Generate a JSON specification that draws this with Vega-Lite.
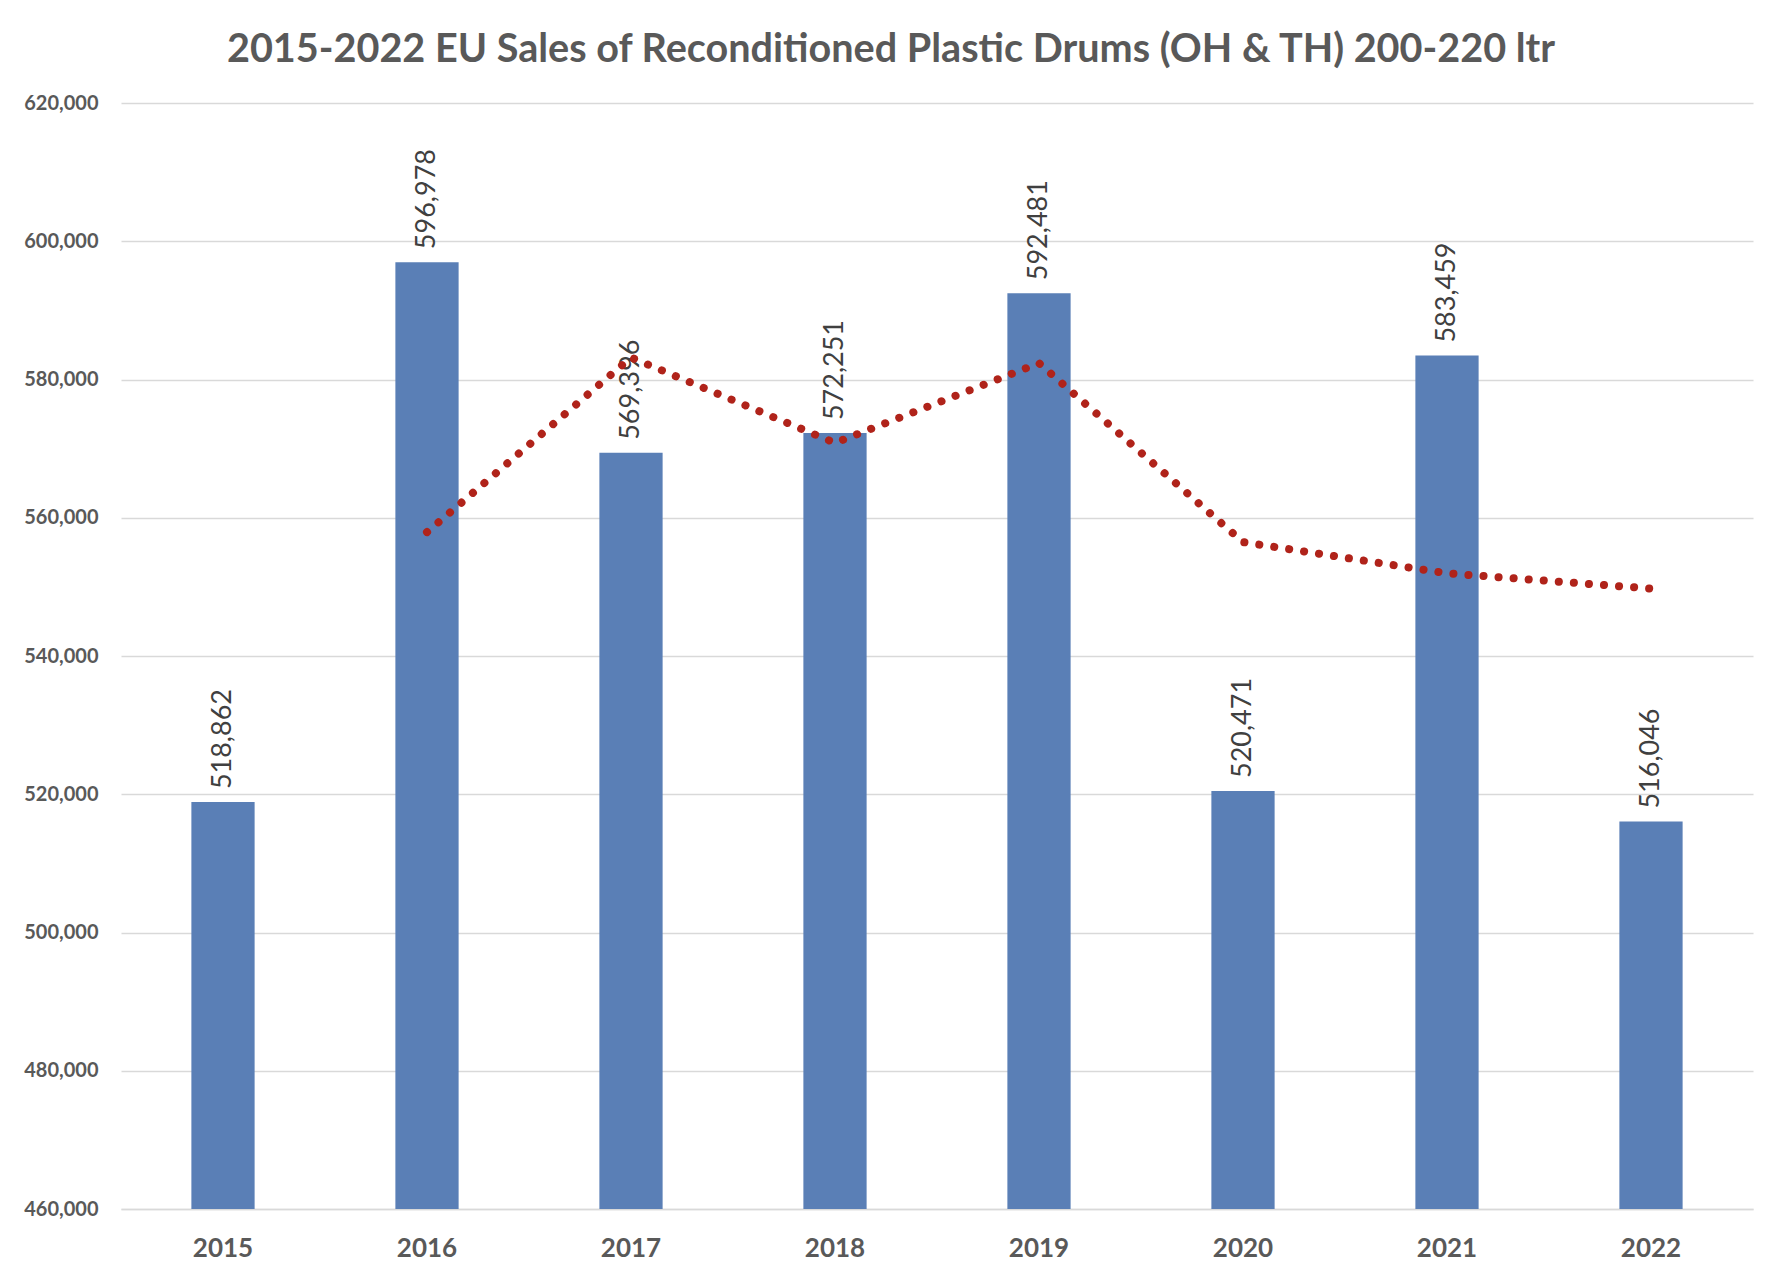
{
  "$schema": "https://vega.github.io/schema/vega-lite/v6.json",
  "autosize": {"type": "none"},
  "width": 1632,
  "height": 1106,
  "padding": {"left": 121, "top": 103, "right": 19, "bottom": 76},
  "background": "white",
  "config": {
    "view": {"stroke": null},
    "font": "Lato",
    "axisY": {
      "labelFont": "Lato", "labelFontSize": 20, "labelFontWeight": "bold",
      "labelColor": "#595959", "labelPadding": 23, "ticks": false, "domain": false,
      "gridColor": "#d9d9d9", "gridWidth": 1.5
    }
  },
  "title": {
    "text": "2015-2022 EU Sales of Reconditioned Plastic Drums (OH & TH) 200-220 ltr",
    "font": "Lato", "fontSize": 39.6, "fontWeight": "bold", "color": "#595959",
    "anchor": "middle", "dx": -46, "offset": 22
  },
  "datasets": {
    "sales": [
      {"year": "2015", "sales": 518862},
      {"year": "2016", "sales": 596978},
      {"year": "2017", "sales": 569396},
      {"year": "2018", "sales": 572251},
      {"year": "2019", "sales": 592481},
      {"year": "2020", "sales": 520471},
      {"year": "2021", "sales": 583459},
      {"year": "2022", "sales": 516046}
    ],
    "trend": [
      {"year": "2016", "avg": 557920},
      {"year": "2017", "avg": 583187},
      {"year": "2018", "avg": 570823.5},
      {"year": "2019", "avg": 582366},
      {"year": "2020", "avg": 556476},
      {"year": "2021", "avg": 551965},
      {"year": "2022", "avg": 549752.5}
    ]
  },
  "layer": [
    {
      "data": {"name": "sales"},
      "mark": {"type": "bar", "color": "#5a7fb6", "clip": true},
      "encoding": {
        "x": {
          "field": "year", "type": "nominal", "sort": null,
          "scale": {"paddingInner": 0.69, "paddingOuter": 0.345},
          "axis": {
            "title": null, "labelAngle": 0, "labelFont": "Lato", "labelFontSize": 26,
            "labelFontWeight": "bold", "labelColor": "#595959", "labelPadding": 26,
            "ticks": false, "domainColor": "#d9d9d9", "domainWidth": 1.5
          }
        },
        "y": {
          "field": "sales", "type": "quantitative",
          "scale": {"domain": [460000, 620000], "zero": false, "nice": false},
          "axis": {
            "title": null,
            "values": [460000, 480000, 500000, 520000, 540000, 560000, 580000, 600000, 620000],
            "labelExpr": "format(datum.value, ',')"
          }
        }
      }
    },
    {
      "data": {"name": "sales"},
      "mark": {"type": "text", "angle": -90, "align": "left", "baseline": "middle", "dx": 13,
               "font": "Lato", "fontSize": 27, "color": "#404040"},
      "encoding": {
        "x": {"field": "year", "type": "nominal", "sort": null},
        "y": {"field": "sales", "type": "quantitative"},
        "text": {"field": "sales", "type": "quantitative", "format": ","}
      }
    },
    {
      "data": {"name": "trend"},
      "mark": {"type": "line", "color": "#b0231a", "strokeWidth": 8, "strokeCap": "round",
               "strokeDash": [0.1, 15]},
      "encoding": {
        "x": {"field": "year", "type": "nominal", "sort": null},
        "y": {"field": "avg", "type": "quantitative"}
      }
    }
  ]
}
